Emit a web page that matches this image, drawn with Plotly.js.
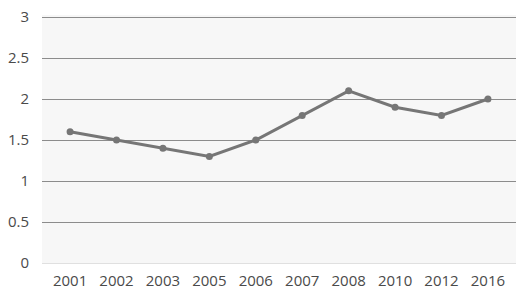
<!DOCTYPE html>
<html><head><meta charset="utf-8">
<script src="https://cdn.plot.ly/plotly-3.0.1.min.js"></script>
<style>html,body{margin:0;padding:0;background:#fff}#chart{width:526px;height:293px}</style>
</head><body><div id="chart"></div>
<script>
const years = ["2001","2002","2003","2005","2006","2007","2008","2010","2012","2016"];
const values = [1.6, 1.5, 1.4, 1.3, 1.5, 1.8, 2.1, 1.9, 1.8, 2.0];
const yTicks = [0, 0.5, 1, 1.5, 2, 2.5, 3];

Plotly.newPlot('chart', [{
  x: years, y: values, type: 'scatter', mode: 'lines+markers',
  line: {color: '#767676', width: 3},
  marker: {color: '#767676', size: 7}
}], {
  width: 526, height: 293,
  margin: {l: 42, r: 10, t: 15, b: 30},
  paper_bgcolor: '#ffffff', plot_bgcolor: '#f7f7f7',
  showlegend: false,
  font: {family: 'Open Sans, sans-serif', size: 15, color: '#4a4a4a'},
  xaxis: {type: 'category', showgrid: false, zeroline: false, showline: false, ticks: '', ticklen: 0,
          ticklabelstandoff: 7, tickfont: {size: 15}},
  yaxis: {range: [0, 3.025], tickvals: yTicks, ticktext: yTicks.map(String), showgrid: true, gridcolor: '#8c8c8c', gridwidth: 1,
          zeroline: true, zerolinecolor: '#e0e0e0', zerolinewidth: 1, showline: false, ticks: '', ticklen: 0,
          ticklabelstandoff: 12, tickfont: {size: 15}}
}, {staticPlot: true});
</script></body></html>
